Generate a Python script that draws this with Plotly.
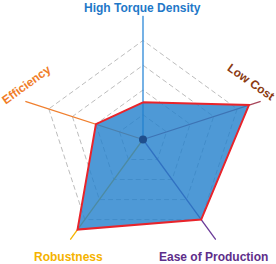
import plotly.graph_objects as go

categories = ["High Torque Density", "Low Cost", "Ease of Production", "Robustness", "Efficiency"]
values = [1.5, 4.5, 4.0, 4.5, 2.0]
axis_max = 5
grid_levels = [1, 2, 3, 4, 5]
axis_colors = ["#2b88d8", "#a8465a", "#6a3a98", "#f5b400", "#f07f2e"]
label_colors = ["#1f78c8", "#8b3a12", "#5e2e8a", "#f5b300", "#f07d28"]

W, H = 276, 264
L, R, T, B = 18, 8, 15, 0
pw, ph = W - L - R, H - T - B

fig = go.Figure()

# colored spokes
for cat, col in zip(categories, axis_colors):
    fig.add_trace(go.Scatterpolar(
        r=[0, axis_max], theta=[cat, cat], mode="lines",
        line=dict(color=col, width=1.3), hoverinfo="skip"))

# filled data polygon
fig.add_trace(go.Scatterpolar(
    r=values + [values[0]], theta=categories + [categories[0]],
    mode="lines", fill="toself",
    fillcolor="rgba(34,128,204,0.8)",
    line=dict(color="#e8242b", width=2)))

# center dot at the polar origin (centre of the square polar domain)
dot = 4.0
cx, cy = 0.5, 0.5
fig.add_shape(type="circle", xref="paper", yref="paper", layer="above",
              x0=cx - dot / pw, x1=cx + dot / pw, y0=cy - dot / ph, y1=cy + dot / ph,
              fillcolor="#1f4e8c", line=dict(width=0))

# label placement (pixel centers -> paper)
label_px = [(142, 8, 0), (251, 82, 35), (213, 257, 0), (68, 257, 0), (26, 85, -36)]
for cat, col, (px, py, ang) in zip(categories, label_colors, label_px):
    fig.add_annotation(
        text="<b>%s</b>" % cat,
        x=(px - L) / pw, y=(H - B - py) / ph, xref="paper", yref="paper",
        xanchor="center", yanchor="middle", showarrow=False, textangle=ang,
        font=dict(family="Arial, Liberation Sans", size=12, color=col))

fig.update_layout(
    width=W, height=H,
    margin=dict(l=L, r=R, t=T, b=B, pad=0),
    paper_bgcolor="white",
    showlegend=False,
    polar=dict(
        bgcolor="white",
        gridshape="linear",
        domain=dict(x=[0, 1], y=[0, 1]),
        radialaxis=dict(range=[0, axis_max * 1.006], tickvals=grid_levels,
                        showticklabels=False, ticks="", showline=False,
                        gridcolor="#bdbdbd", griddash="5px,3px", gridwidth=1.3),
        angularaxis=dict(categoryorder="array", categoryarray=categories,
                         direction="clockwise", rotation=90,
                         showgrid=False, showline=False, showticklabels=False,
                         ticks=""),
    ),
)

fig.write_html("out.html", config={"displayModeBar": False},
               post_script="document.body.style.margin='0';document.body.style.overflow='hidden';")
